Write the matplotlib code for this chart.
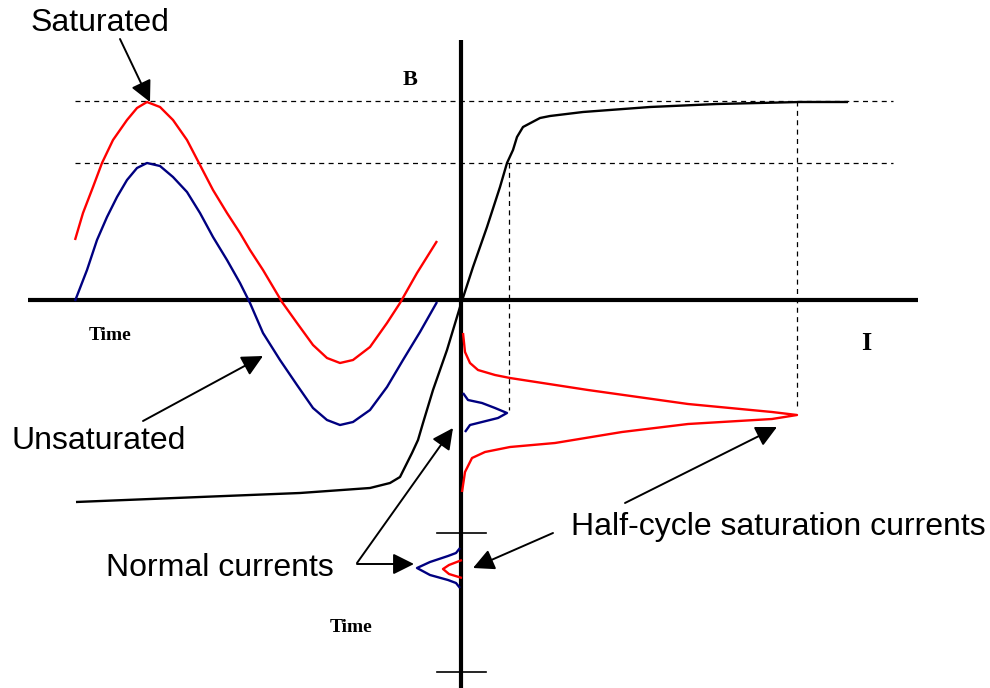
"""Saturated vs unsaturated magnetising current sketch (B-I curve)."""

import matplotlib
matplotlib.use("Agg")
import matplotlib.pyplot as plt

RED = "#ff0000"
NAVY = "#000080"

# values, in pixel coordinates (x right, y down)
flux_unsat_x = [75, 87, 97, 107, 117, 127, 137, 147, 160, 173, 187, 200,
                213, 227, 240, 250, 263, 280, 297, 313, 327, 340, 353, 370,
                387, 403, 420, 437]
flux_unsat_y = [301, 270, 240, 217, 197, 180, 168, 163, 166, 177, 192, 213,
                237, 260, 283, 303, 333, 360, 385, 408, 420, 425, 422, 410,
                387, 360, 332, 302]

flux_sat_x = [75, 83, 93, 102, 113, 127, 137, 147, 160, 173, 187, 200,
              213, 227, 240, 250, 263, 282, 297, 313, 327, 340, 353, 370,
              387, 400, 417, 437]
flux_sat_y = [240, 213, 187, 163, 140, 120, 108, 102, 107, 120, 140, 165,
              190, 213, 233, 250, 270, 302, 323, 345, 358, 363, 360, 347,
              323, 303, 273, 241]

bh_x = [76, 200, 300, 370, 390, 400, 407, 412, 418, 423, 433, 447, 460,
        473, 487, 500, 507, 513, 517, 523, 540, 550, 583, 650, 717, 800, 848]
bh_y = [502, 497, 493, 488, 483, 477, 463, 453, 440, 423, 390, 350, 307,
        267, 227, 187, 163, 150, 137, 127, 118, 116, 112, 107, 104, 102, 102]

sat_pulse_x = [463, 465, 470, 478, 495, 510, 588, 688, 772, 797, 772, 688,
               622, 555, 510, 485, 472, 465, 462]
sat_pulse_y = [333, 352, 363, 370, 375, 378, 390, 404, 412, 415, 419, 424,
               432, 443, 447, 452, 458, 472, 492]

norm_pulse_x = [463, 468, 482, 495, 507, 498, 482, 470, 465]
norm_pulse_y = [393, 400, 403, 408, 413, 418, 422, 425, 432]

small_norm_x = [460, 456, 448, 430, 417, 430, 448, 456, 460]
small_norm_y = [548, 553, 556, 562, 568, 575, 580, 583, 588]

small_sat_x = [462, 449, 443, 449, 462]
small_sat_y = [560, 565, 569, 574, 578]

level_y = [101, 163]            # dashed flux levels
level_x = [509, 797]            # dashed current levels
level_top = [163, 101]

labels = ["Saturated", "Unsaturated", "Normal currents",
          "Half-cycle saturation currents"]
label_xy = [(31, 23), (11, 441), (106, 568), (571, 527)]

# (tail, tip) of each pointer
arrows = [((120, 39), (150, 102)),
          ((143, 421), (263, 356)),
          ((357, 563), (453, 428)),
          ((357, 564), (414, 564)),
          ((625, 503), (777, 427)),
          ((553, 533), (473, 568))]

fig = plt.figure(figsize=(9.9, 6.88), dpi=100)
ax = fig.add_axes([0, 0, 1, 1])
ax.set_xlim(0, 990)
ax.set_ylim(688, 0)
ax.axis("off")

# dashed guide lines
for y in level_y:
    ax.plot([75, 893], [y, y], color="black", lw=0.9, ls=(0, (4, 3.5)))
for x, top in zip(level_x, level_top):
    ax.plot([x, x], [top, 410], color="black", lw=0.9, ls=(0, (4, 3.5)))

# main axes
ax.plot([28, 918], [300, 300], color="black", lw=3.0, solid_capstyle="butt")
ax.plot([461, 461], [40, 688], color="black", lw=3.0, solid_capstyle="butt")
for y in [533, 672]:
    ax.plot([437, 486], [y, y], color="black", lw=1.2)

# curves
style = dict(lw=1.7, solid_joinstyle="round", solid_capstyle="butt")
ax.plot(flux_sat_x, flux_sat_y, color=RED, **style)
ax.plot(flux_unsat_x, flux_unsat_y, color=NAVY, **style)
ax.plot(bh_x, bh_y, color="black", **style)
ax.plot(sat_pulse_x, sat_pulse_y, color=RED, **style)
ax.plot(norm_pulse_x, norm_pulse_y, color=NAVY, **style)
ax.plot(small_norm_x, small_norm_y, color=NAVY, **style)
ax.plot(small_sat_x, small_sat_y, color=RED, **style)

# pointers
for tail, tip in arrows:
    ax.annotate("", xy=tip, xytext=tail,
                arrowprops=dict(arrowstyle="-|>", color="black", lw=1.4,
                                mutation_scale=32, shrinkA=0, shrinkB=0))

for text, (x, y) in zip(labels, label_xy):
    ax.text(x, y, text, fontsize=23, family="Liberation Sans",
            ha="left", va="center")

serif = dict(family="Liberation Serif", fontweight="bold")
ax.text(410, 80, "B", fontsize=16, ha="center", va="center", **serif)
ax.text(866, 343, "I", fontsize=19, ha="center", va="center", **serif)
ax.text(110, 335, "Time", fontsize=14, ha="center", va="center", **serif)
ax.text(351, 628, "Time", fontsize=14, ha="center", va="center", **serif)

fig.savefig("out.png", dpi=100)
